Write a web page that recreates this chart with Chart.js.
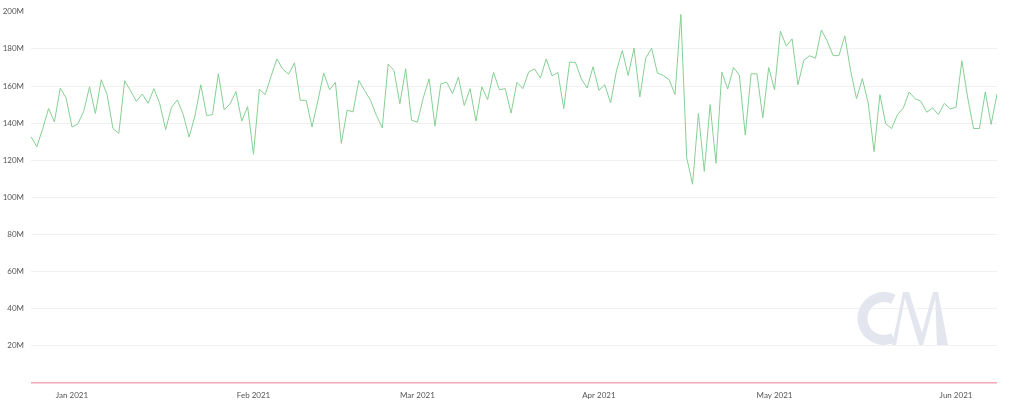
<!DOCTYPE html>
<html lang="en">
<head>
<meta charset="UTF-8">
<title>Daily volume</title>
<script src="https://cdn.jsdelivr.net/npm/chart.js@4.4.1/dist/chart.umd.min.js"></script>
<style>
    html, body { margin: 0; padding: 0; background: #ffffff; }
    #wrap { width: 1024px; height: 405px; position: relative; }
</style>
</head>
<body>
<div id="wrap"><canvas id="chart"></canvas></div>
<script>
// first day of the series, one value per day after it
var startDate = '2020-12-25';

// daily values, in millions
var values = [
    132.7, 127.3, 137.0, 147.9, 140.7, 158.9, 153.6, 137.9, 139.6, 146.4,
    159.6, 145.2, 163.4, 155.4, 137.1, 134.5, 162.9, 157.5, 151.8, 155.7,
    150.7, 158.6, 150.4, 136.6, 148.6, 152.5, 144.6, 132.5, 143.8, 160.7,
    144.1, 144.6, 166.6, 147.1, 150.4, 157.1, 141.1, 148.9, 123.2, 158.2,
    155.4, 165.2, 174.6, 169.1, 166.4, 172.5, 152.3, 152.3, 137.9, 152.0,
    167.0, 158.0, 162.0, 129.1, 147.0, 146.1, 163.0, 157.5, 152.3, 144.1,
    137.5, 171.8, 168.4, 150.4, 169.3, 141.6, 140.5, 153.6, 163.9, 138.4,
    161.1, 162.1, 155.9, 164.8, 149.5, 158.6, 141.1, 159.6, 152.7, 167.3,
    158.0, 158.6, 145.4, 162.0, 158.6, 167.5, 169.3, 164.3, 174.6, 165.5,
    167.3, 147.9, 172.9, 172.7, 163.8, 158.9, 170.4, 157.7, 160.7, 150.9,
    168.2, 179.1, 165.7, 180.4, 154.1, 175.0, 180.4, 167.0, 165.7, 163.4,
    155.4, 198.6, 121.4, 107.1, 145.2, 114.0, 150.0, 118.4, 167.5, 158.4,
    170.0, 165.7, 133.6, 166.6, 166.6, 142.9, 170.0, 158.0, 189.6, 181.6,
    185.4, 160.7, 173.9, 176.3, 175.0, 190.2, 184.3, 176.4, 176.4, 187.0,
    168.2, 153.2, 164.0, 150.9, 124.6, 155.4, 139.6, 137.1, 144.6, 148.2,
    156.8, 153.2, 151.8, 145.9, 148.2, 144.6, 150.7, 147.7, 148.6, 173.6,
    153.6, 137.1, 137.1, 156.8, 139.3, 155.7
];

var monthNames = ['Jan', 'Feb', 'Mar', 'Apr', 'May', 'Jun', 'Jul', 'Aug', 'Sep', 'Oct', 'Nov', 'Dec'];
var yTicks = [20, 40, 60, 80, 100, 120, 140, 160, 180, 200];

// one label per day
var days = [];
var d0 = new Date(startDate + 'T00:00:00Z');
for (var i = 0; i < values.length; i++) {
    days.push(new Date(d0.getTime() + i * 86400000));
}

// faint logo in the lower right corner
var watermark = {
    id: 'watermark',
    beforeDatasetsDraw: function(chart) {
        var ctx = chart.ctx;
        ctx.save();
        ctx.strokeStyle = '#e4e6ef';
        ctx.fillStyle = '#e4e6ef';
        ctx.lineWidth = 10;
        ctx.beginPath();
        ctx.arc(884, 318.5, 21.5, 1.12, 2 * Math.PI - 1.12);
        ctx.stroke();

        ctx.beginPath();
        ctx.moveTo(892, 345); ctx.lineTo(896, 345); ctx.lineTo(906, 292); ctx.lineTo(903, 292);
        ctx.closePath(); ctx.fill();

        ctx.beginPath();
        ctx.moveTo(903, 292); ctx.lineTo(909, 292); ctx.lineTo(922, 333); ctx.lineTo(933, 292);
        ctx.lineTo(937, 292); ctx.lineTo(923, 345); ctx.lineTo(919, 345);
        ctx.closePath(); ctx.fill();

        ctx.beginPath();
        ctx.moveTo(935, 292); ctx.lineTo(938, 292); ctx.lineTo(948, 345); ctx.lineTo(937, 345);
        ctx.closePath(); ctx.fill();
        ctx.restore();
    }
};

new Chart(document.getElementById('chart'), {
    type: 'line',
    data: {
        labels: days,
        datasets: [{
            data: values,
            borderColor: '#86d093',
            borderWidth: 1,
            pointRadius: 0,
            tension: 0,
            fill: false
        }]
    },
    options: {
        responsive: true,
        maintainAspectRatio: false,
        animation: false,
        layout: { padding: { top: 10, right: 27, left: 0, bottom: 0 } },
        plugins: { legend: { display: false }, tooltip: { enabled: false } },
        scales: {
            x: {
                offset: false,
                grid: { display: false, drawTicks: false },
                border: { display: false },
                ticks: {
                    autoSkip: false,
                    maxRotation: 0,
                    padding: 8,
                    color: '#555',
                    font: { family: 'Lato', size: 8 },
                    callback: function(v, idx) {
                        var d = days[idx];
                        if (d.getUTCDate() !== 1) return null;
                        return monthNames[d.getUTCMonth()] + ' ' + d.getUTCFullYear();
                    }
                },
                afterFit: function(s) { s.height = 22; }
            },
            y: {
                min: 0,
                max: 200,
                border: { display: false },
                grid: {
                    drawTicks: false,
                    lineWidth: function(c) { return c.tick.value === 0 ? 1.5 : 1; },
                    color: function(c) {
                        if (c.tick.value === 0) return '#f4a6b9';
                        if (c.tick.value === 200) return 'rgba(0,0,0,0)';
                        return '#f1f1f1';
                    }
                },
                afterBuildTicks: function(s) {
                    s.ticks = [{ value: 0 }].concat(yTicks.map(function(v) { return { value: v }; }));
                },
                ticks: {
                    padding: 7,
                    color: '#555',
                    font: { family: 'Lato', size: 8 },
                    callback: function(v) { return v === 0 ? '' : v + 'M'; }
                },
                afterFit: function(s) { s.width = 31; }
            }
        }
    },
    plugins: [watermark]
});
</script>
</body>
</html>
